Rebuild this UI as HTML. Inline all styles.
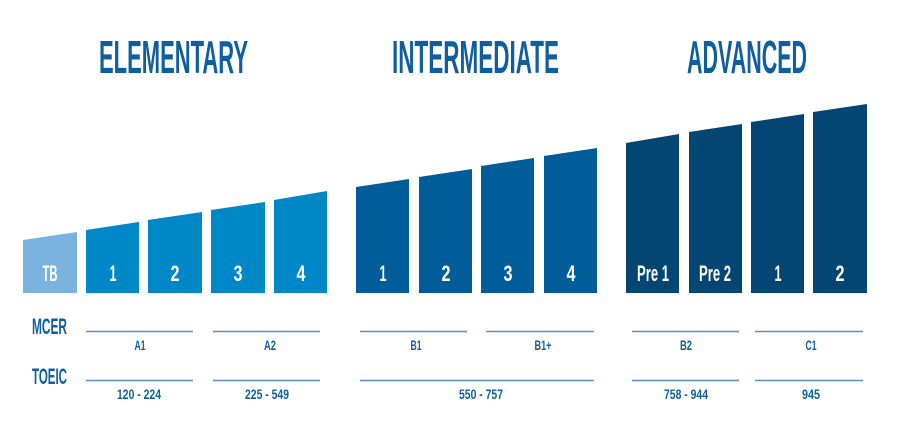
<!DOCTYPE html>
<html><head><style>
html,body{margin:0;padding:0;background:#fff;width:900px;height:425px;overflow:hidden}
text{font-family:"Liberation Sans Narrow","Liberation Sans",sans-serif;font-weight:bold}
</style></head><body>
<svg width="900" height="425" viewBox="0 0 900 425" xmlns="http://www.w3.org/2000/svg">
<g fill="#0f5fa0">
<text x="99" y="73" font-size="46" textLength="149" lengthAdjust="spacingAndGlyphs">ELEMENTARY</text>
<text x="392" y="73" font-size="46" textLength="167" lengthAdjust="spacingAndGlyphs">INTERMEDIATE</text>
<text x="687" y="73" font-size="46" textLength="120" lengthAdjust="spacingAndGlyphs">ADVANCED</text>
</g>
<polygon points="23,240 77,232 77,293 23,293" fill="#7ab3e0"/>
<g fill="#0087c8">
<polygon points="86,230 139,222 139,293 86,293"/>
<polygon points="148,220 202,212 202,293 148,293"/>
<polygon points="211,210 265,202 265,293 211,293"/>
<polygon points="274,200 327,191 327,293 274,293"/>
</g>
<g fill="#005d9a">
<polygon points="356,187 409,179 409,293 356,293"/>
<polygon points="419,177 472,169 472,293 419,293"/>
<polygon points="481,166 534,158 534,293 481,293"/>
<polygon points="544,156 597,148 597,293 544,293"/>
</g>
<g fill="#034573">
<polygon points="626,143 679,134 679,293 626,293"/>
<polygon points="689,132 742,124 742,293 689,293"/>
<polygon points="751,122 804,114 804,293 751,293"/>
<polygon points="813,112 867,104 867,293 813,293"/>
</g>
<g fill="#fff" font-size="22" text-anchor="middle">
<text x="50" y="281" textLength="15" lengthAdjust="spacingAndGlyphs">TB</text>
<text x="113" y="281" textLength="7" lengthAdjust="spacingAndGlyphs">1</text>
<text x="175" y="281" textLength="9" lengthAdjust="spacingAndGlyphs">2</text>
<text x="238" y="281" textLength="9" lengthAdjust="spacingAndGlyphs">3</text>
<text x="301" y="281" textLength="9" lengthAdjust="spacingAndGlyphs">4</text>
<text x="383" y="281" textLength="7" lengthAdjust="spacingAndGlyphs">1</text>
<text x="446" y="281" textLength="9" lengthAdjust="spacingAndGlyphs">2</text>
<text x="508" y="281" textLength="9" lengthAdjust="spacingAndGlyphs">3</text>
<text x="571" y="281" textLength="9" lengthAdjust="spacingAndGlyphs">4</text>
<text x="653" y="281" textLength="32" lengthAdjust="spacingAndGlyphs">Pre 1</text>
<text x="715" y="281" textLength="32" lengthAdjust="spacingAndGlyphs">Pre 2</text>
<text x="778" y="281" textLength="7" lengthAdjust="spacingAndGlyphs">1</text>
<text x="840" y="281" textLength="9" lengthAdjust="spacingAndGlyphs">2</text>
</g>
<g fill="#0f5fa0" font-size="22">
<text x="32" y="334" textLength="35" lengthAdjust="spacingAndGlyphs">MCER</text>
<text x="32" y="384" textLength="35" lengthAdjust="spacingAndGlyphs">TOEIC</text>
</g>
<g stroke="#5a8ec8" stroke-width="1.5">
<line x1="86" y1="331.5" x2="193" y2="331.5"/><line x1="213" y1="331.5" x2="320" y2="331.5"/>
<line x1="360" y1="331.5" x2="467" y2="331.5"/><line x1="486" y1="331.5" x2="594" y2="331.5"/>
<line x1="632" y1="331.5" x2="739" y2="331.5"/><line x1="755" y1="331.5" x2="863" y2="331.5"/>
<line x1="86" y1="380.5" x2="193" y2="380.5"/><line x1="213" y1="380.5" x2="320" y2="380.5"/>
<line x1="360" y1="380.5" x2="594" y2="380.5"/>
<line x1="632" y1="380.5" x2="739" y2="380.5"/><line x1="755" y1="380.5" x2="863" y2="380.5"/>
</g>
<g fill="#0f5fa0" font-size="14" text-anchor="middle">
<text x="140" y="350" textLength="11" lengthAdjust="spacingAndGlyphs">A1</text>
<text x="270" y="350" textLength="12" lengthAdjust="spacingAndGlyphs">A2</text>
<text x="416" y="350" textLength="11" lengthAdjust="spacingAndGlyphs">B1</text>
<text x="543" y="350" textLength="17" lengthAdjust="spacingAndGlyphs">B1+</text>
<text x="686" y="350" textLength="12" lengthAdjust="spacingAndGlyphs">B2</text>
<text x="811" y="350" textLength="11" lengthAdjust="spacingAndGlyphs">C1</text>
<text x="139" y="399" textLength="44" lengthAdjust="spacingAndGlyphs">120 - 224</text>
<text x="267" y="399" textLength="44" lengthAdjust="spacingAndGlyphs">225 - 549</text>
<text x="481" y="399" textLength="44" lengthAdjust="spacingAndGlyphs">550 - 757</text>
<text x="686" y="399" textLength="44" lengthAdjust="spacingAndGlyphs">758 - 944</text>
<text x="811" y="399" textLength="18" lengthAdjust="spacingAndGlyphs">945</text>
</g>
</svg>
</body></html>
